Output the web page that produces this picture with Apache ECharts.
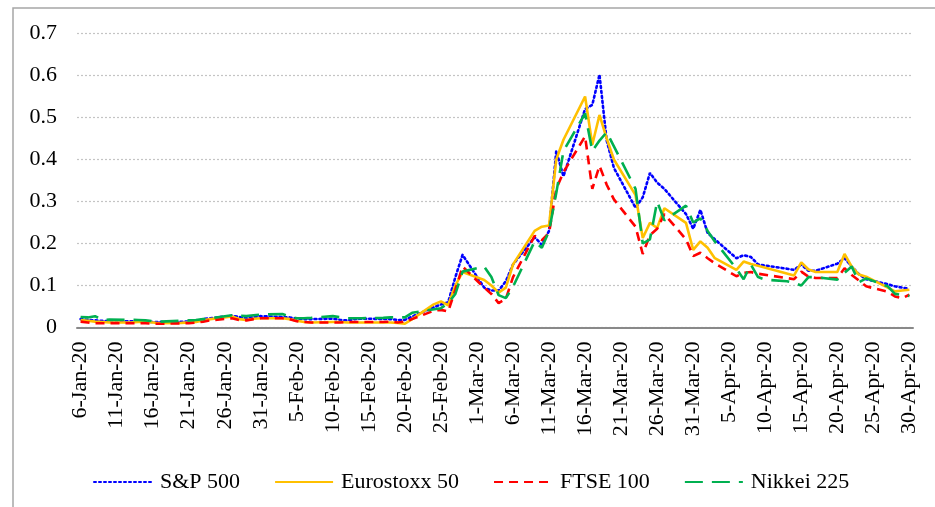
<!DOCTYPE html>
<html>
<head>
<meta charset="utf-8">
<script src="https://cdn.jsdelivr.net/npm/echarts@6/dist/echarts.min.js"></script>
<style>
html,body{margin:0;padding:0;background:#fff;}
#chart{width:935px;height:507px;}
</style>
</head>
<body>
<div id="chart"></div>
<script>
// Calendar days 6-Jan-20 .. 30-Apr-20 (weekends / holidays = null, lines connected across them)
var monthNames = ['Jan','Feb','Mar','Apr'];
var monthDays = [31,29,31,30];
var categories = [];
(function(){
  var m = 0, d = 6;
  while (m < 4) {
    categories.push(d + '-' + monthNames[m] + '-20');
    d++;
    if (d > monthDays[m]) { d = 1; m++; }
  }
})();

var yTicks = [0, 0.1, 0.2, 0.3, 0.4, 0.5, 0.6, 0.7];
var seriesNames = ['S&P 500', 'Eurostoxx 50', 'FTSE 100', 'Nikkei 225'];
var N = null;

// weekly rows: Mon..Fri, Sat, Sun
var sp500 = [
  0.020,0.018,0.017,0.016,0.015,N,N,
  0.015,0.015,0.014,0.013,0.013,N,N,
  N,0.014,0.015,0.020,0.022,N,N,
  0.028,0.025,0.022,0.025,0.027,N,N,
  0.025,0.024,0.021,0.020,0.020,N,N,
  0.021,0.018,0.017,0.020,0.021,N,N,
  N,0.020,0.018,0.018,0.026,N,N,
  0.048,0.055,0.060,0.120,0.173,N,N,
  0.095,0.088,0.088,0.110,0.150,N,N,
  0.215,0.197,0.230,0.420,0.360,N,N,
  0.520,0.530,0.602,0.445,0.380,N,N,
  0.285,0.310,0.368,0.345,0.330,N,N,
  0.270,0.235,0.280,0.225,0.210,N,N,
  0.165,0.172,0.168,0.150,N,N,N,
  0.140,0.137,0.150,0.135,0.135,N,N,
  0.152,0.165,0.145,0.127,0.115,N,N,
  0.103,0.098,0.095,0.092
];
var eurostoxx50 = [
  0.018,0.016,0.014,0.013,0.012,N,N,
  0.012,0.013,0.014,0.012,0.010,N,N,
  0.011,0.012,0.013,0.017,0.020,N,N,
  0.026,0.020,0.018,0.021,0.022,N,N,
  0.022,0.020,0.016,0.013,0.012,N,N,
  0.013,0.013,0.012,0.012,0.012,N,N,
  0.012,0.012,0.011,0.009,0.020,N,N,
  0.055,0.062,0.053,0.100,0.132,N,N,
  0.113,0.100,0.083,0.095,0.150,N,N,
  0.230,0.240,0.243,0.400,0.447,N,N,
  0.550,0.435,0.506,0.450,0.400,N,N,
  0.315,0.213,0.249,0.237,0.284,N,N,
  0.249,0.185,0.205,0.190,0.165,N,N,
  0.137,0.157,0.151,0.147,N,N,N,
  N,0.124,0.155,0.138,0.132,N,N,
  0.132,0.175,0.145,0.126,0.121,N,N,
  0.095,0.086,0.088,0.090
];
var ftse100 = [
  0.014,0.012,0.010,0.010,0.010,N,N,
  0.010,0.010,0.010,0.009,0.009,N,N,
  0.010,0.010,0.012,0.014,0.017,N,N,
  0.022,0.018,0.017,0.020,0.022,N,N,
  0.022,0.020,0.015,0.013,0.012,N,N,
  0.012,0.012,0.013,0.013,0.013,N,N,
  0.013,0.014,0.012,0.014,0.020,N,N,
  0.040,0.042,0.038,0.090,0.145,N,N,
  0.095,0.080,0.058,0.068,0.120,N,N,
  0.218,0.208,0.225,0.330,0.370,N,N,
  0.455,0.330,0.385,0.340,0.305,N,N,
  0.240,0.175,0.220,0.235,0.270,N,N,
  0.210,0.170,0.178,0.165,0.153,N,N,
  0.122,0.130,0.132,0.128,N,N,N,
  N,0.115,0.133,0.121,0.118,N,N,
  0.118,0.141,0.125,0.112,0.098,N,N,
  0.085,0.074,0.070,0.078
];
var nikkei225 = [
  0.025,0.024,0.027,0.018,0.019,N,N,
  N,0.018,0.017,0.015,0.014,N,N,
  0.016,0.017,0.018,0.020,0.022,N,N,
  0.029,0.028,0.027,0.029,0.031,N,N,
  0.032,0.026,0.022,0.022,0.023,N,N,
  0.027,N,0.022,0.022,0.022,N,N,
  0.023,0.024,0.024,0.024,0.035,N,N,
  N,0.046,0.058,0.080,0.133,N,N,
  0.145,0.120,0.077,0.070,0.097,N,N,
  0.205,0.190,0.230,0.320,0.420,N,N,
  0.510,0.420,0.445,0.465,N,N,N,
  0.330,0.200,0.210,0.300,0.255,N,N,
  0.290,0.250,0.260,0.230,0.205,N,N,
  0.140,0.115,0.150,0.120,0.114,N,N,
  0.110,0.106,0.100,0.120,0.120,N,N,
  0.114,0.130,0.145,0.108,0.117,N,N,
  0.098,0.080,N,0.075
];

var FONT = '"Liberation Serif", "Times New Roman", serif';
var chart = echarts.init(document.getElementById('chart'), null, {renderer: 'canvas'});

function mk(name, data, color, type, cap) {
  return {
    name: name, type: 'line', data: data, connectNulls: true,
    showSymbol: false, symbol: 'none', smooth: false, animation: false,
    lineStyle: {color: color, width: 2.6, type: type, cap: cap || 'butt'},
    itemStyle: {color: color}
  };
}

chart.setOption({
  backgroundColor: '#fff',
  animation: false,
  graphic: [{
    type: 'rect', silent: true,
    shape: {x: 13, y: 8, width: 1000, height: 600},
    style: {fill: 'none', stroke: '#a6a6a6', lineWidth: 1.5}
  }],
  grid: {left: 77, right: 22, top: 33.5, bottom: 179.5, containLabel: false},
  legend: {
    left: 88, top: 466, itemGap: 34, itemWidth: 58, itemHeight: 14,
    itemStyle: {opacity: 0, borderWidth: 0},
    textStyle: {fontFamily: FONT, fontSize: 22, color: '#000', padding: [0,0,0,3]},
    data: seriesNames
  },
  xAxis: {
    type: 'category', data: categories, boundaryGap: true,
    axisLine: {lineStyle: {color: '#898989', width: 2}},
    axisTick: {show: false},
    axisLabel: {interval: 4, rotate: 90, margin: 14, fontFamily: FONT, fontSize: 22, color: '#000'},
    splitLine: {show: false}
  },
  yAxis: {
    type: 'value', min: yTicks[0], max: yTicks[yTicks.length-1], interval: 0.1,
    axisLine: {show: false}, axisTick: {show: false},
    axisLabel: {margin: 20, fontFamily: FONT, fontSize: 22, color: '#000'},
    splitLine: {lineStyle: {color: '#c4c4c4', width: 1.2, type: [2, 2]}}
  },
  series: [
    mk(seriesNames[0], sp500, '#0000FF', [2, 3], 'round'),
    mk(seriesNames[1], eurostoxx50, '#FFC000', 'solid'),
    mk(seriesNames[2], ftse100, '#FF0000', [9, 6]),
    mk(seriesNames[3], nikkei225, '#00B050', [18, 9])
  ]
});
</script>
</body>
</html>
